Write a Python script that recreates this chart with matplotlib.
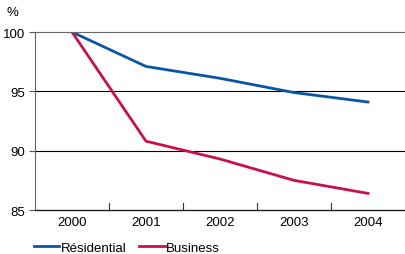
import numpy as np
import matplotlib.pyplot as plt

# data
years = ['2000', '2001', '2002', '2003', '2004']
residential = [100, 97.1, 96.1, 94.9, 94.1]
business = [100, 90.8, 89.3, 87.5, 86.4]

plt.rcParams['font.family'] = ['Liberation Sans', 'DejaVu Sans']
plt.rcParams['font.size'] = 9.5

fig = plt.figure(figsize=(4.05, 2.55), dpi=100)
ax = fig.add_axes([0.0864, 0.1725, 0.9136, 0.698])

x = np.arange(len(years))
l1, = ax.plot(x, residential, color='#0a56a5', lw=2, label='Résidential')
l2, = ax.plot(x, business, color='#c8104f', lw=2, label='Business')

ax.set_xlim(-0.5, 4.5)
ax.set_ylim(85, 100)
ax.set_yticks([85, 90, 95, 100])
ax.set_xticks(x)
ax.set_xticklabels(years)
ax.tick_params(axis='x', length=0, pad=4)
ax.tick_params(axis='y', length=4, width=0.8, color='#555555', pad=3)

# horizontal grid lines
for v in [90, 95]:
    ax.axhline(v, color='black', lw=0.8, zorder=0)

# band boundary ticks on the x axis
for b in np.arange(0.5, 4.5, 1):
    ax.plot([b, b], [85, 85.6], color='#333333', lw=0.8, clip_on=False)

ax.spines['right'].set_visible(False)
ax.spines['top'].set_color('#666666')
ax.spines['top'].set_linewidth(0.8)
ax.spines['left'].set_color('#666666')
ax.spines['left'].set_linewidth(0.8)
ax.spines['bottom'].set_color('#222222')
ax.spines['bottom'].set_linewidth(1.0)

fig.text(0.017, 0.948, '%', fontsize=9.5, va='center', ha='left')

fig.legend(handles=[l1, l2], loc='lower left', bbox_to_anchor=(0.055, -0.045),
           ncol=2, frameon=False, handlelength=1.9, handletextpad=0.1,
           columnspacing=1.0, fontsize=9.5)

plt.savefig('out.png', dpi=100)
